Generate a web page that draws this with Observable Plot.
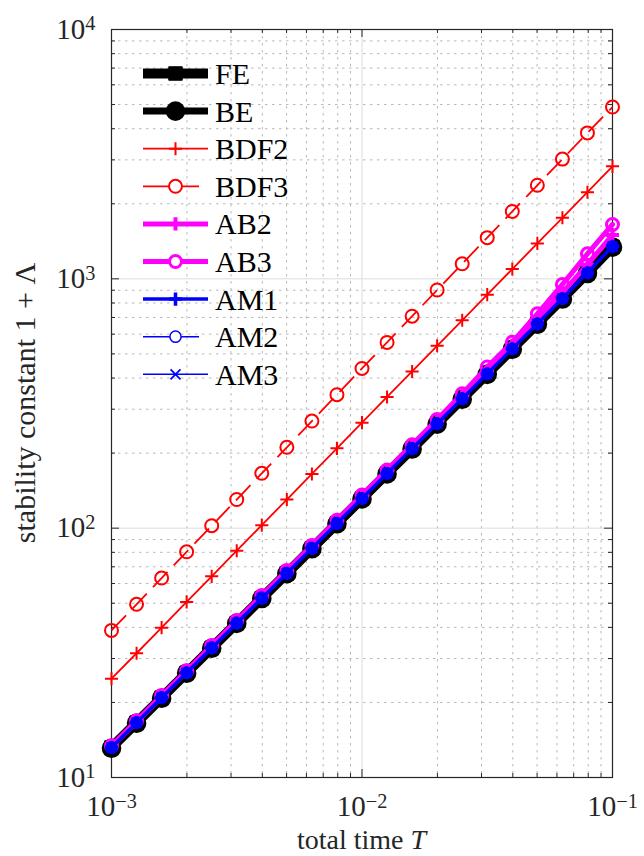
<!DOCTYPE html>
<html><head><meta charset="utf-8">
<script src="https://cdn.jsdelivr.net/npm/d3@7"></script>
<script src="https://cdn.jsdelivr.net/npm/@observablehq/plot@0.6"></script>
<style>
html,body{margin:0;padding:0;background:#fff;}
#chart{width:644px;height:856px;}
</style></head>
<body><div id="chart"></div>
<script>
// ---- data ----
const T = [0.001, 0.001259, 0.001585, 0.001995, 0.002512, 0.003162, 0.003981, 0.005012, 0.00631, 0.007943,
           0.01, 0.01259, 0.01585, 0.01995, 0.02512, 0.03162, 0.03981, 0.05012, 0.0631, 0.07943, 0.1];
const FE   = [13.2, 16.6, 20.9, 26.3, 33.1, 41.6, 52.4, 65.9, 83.0, 104.5, 131.5, 165.6, 208.5, 262.5, 330.5, 416, 524, 660, 834, 1055, 1345];
const BE   = [13.1, 16.5, 20.8, 26.2, 33.0, 41.5, 52.2, 65.7, 82.7, 104.1, 131.0, 165.0, 207.7, 261.5, 329, 414, 522, 657, 830, 1050, 1340];
const BDF2 = [24.9, 31.5, 39.9, 50.6, 64.1, 81.2, 102.8, 130.3, 165, 209, 265, 336, 425, 539, 682, 864, 1095, 1387, 1757, 2226, 2826];
const BDF3 = [38.9, 49.5, 63.1, 80.4, 102.3, 130.3, 166, 211, 269, 343, 437, 556, 708, 902, 1149, 1463, 1863, 2373, 3022, 3848, 4887];
const AB2  = [13.3, 16.7, 21.1, 26.6, 33.5, 42.2, 53.1, 66.9, 84.3, 106.3, 134, 169, 213, 269, 339, 428, 541, 687, 880, 1140, 1500];
const AB3  = [13.4, 16.9, 21.3, 26.8, 33.8, 42.6, 53.7, 67.7, 85.3, 107.6, 135.7, 171, 216, 273, 346, 443, 557, 724, 950, 1260, 1652];
const AM1  = [13.2, 16.6, 20.9, 26.3, 33.1, 41.6, 52.4, 65.9, 83.0, 104.5, 131.5, 165.6, 208.5, 262.5, 330.5, 416, 524, 660, 834, 1058, 1350];
const AM2  = [13.2, 16.6, 20.9, 26.3, 33.1, 41.6, 52.4, 65.9, 83.0, 104.5, 131.5, 165.6, 208.5, 262.5, 330.5, 416, 524, 660, 834, 1056, 1347];
const AM3  = [13.2, 16.6, 20.9, 26.3, 33.1, 41.6, 52.4, 65.9, 83.0, 104.5, 131.5, 165.6, 208.5, 262.5, 330.5, 416, 524, 660, 834, 1056, 1347];

const seriesNames  = ["FE", "BE", "BDF2", "BDF3", "AB2", "AB3", "AM1", "AM2", "AM3"];
const seriesValues = [FE, BE, BDF2, BDF3, AB2, AB3, AM1, AM2, AM3];
const xTicks = [0.001, 0.01, 0.1];
const yTicks = [10, 100, 1000, 10000];

// ---- styles ----
const styles = [
  {color: "#000000", lw: 10, sym: "square", r: 7.6, sw: 1, fill: "#000000"},
  {color: "#000000", lw: 7, sym: "circle", r: 8.8, sw: 2, fill: "#000000"},
  {color: "#ff0000", lw: 1.8, sym: "plus", r: 4.3, sw: 2, fill: "none"},
  {color: "#ff0000", lw: 1.8, sym: "circle", r: 6.5, sw: 2, fill: "none", dash: "21,9"},
  {color: "#ff00ff", lw: 5, sym: "plus", r: 4.3, sw: 4, fill: "none"},
  {color: "#ff00ff", lw: 5, sym: "circle", r: 6.0, sw: 3, fill: "none"},
  {color: "#0000ff", lw: 3.5, sym: "plus", r: 4.3, sw: 3.5, fill: "none"},
  {color: "#0000ff", lw: 1.5, sym: "circle", r: 5.6, sw: 1.5, fill: "#0000ff", legendFill: "#ffffff"},
  {color: "#0000ff", lw: 1.5, sym: "times", r: 4.6, sw: 1.8, fill: "none"}
];

// ---- pick an installed serif font ----
function pickFont(cands) {
  const ctx = document.createElement("canvas").getContext("2d");
  const probe = "stability constant 1 + BDF2 10";
  ctx.font = "40px monospace"; const wm = ctx.measureText(probe).width;
  ctx.font = "40px sans-serif"; const ws = ctx.measureText(probe).width;
  for (const c of cands) {
    ctx.font = `40px "${c}", monospace`; const a = ctx.measureText(probe).width;
    ctx.font = `40px "${c}", sans-serif`; const b = ctx.measureText(probe).width;
    if (a !== wm || b !== ws) return `"${c}"`;
  }
  return "serif";
}
const FONT = pickFont(["Liberation Serif", "Tinos", "Times New Roman", "Times", "Nimbus Roman", "DejaVu Serif", "Noto Serif", "FreeSerif"]) + ", serif";

const W = 644, H = 856, mL = 111, mR = 32, mT = 29, mB = 79;
const innerW = W - mL - mR, innerH = H - mT - mB;
const INK = "#262626";

const xMinor = [], yMinor = [];
for (const d of [-3, -2]) for (let k = 2; k <= 9; k++) xMinor.push(k * 10 ** d);
for (const d of [1, 2, 3]) for (let k = 2; k <= 9; k++) yMinor.push(k * 10 ** d);

const seriesMarks = [];
seriesValues.forEach((vals, i) => {
  const s = styles[i];
  const data = T.map((t, j) => ({T: t, v: vals[j]}));
  seriesMarks.push(Plot.line(data, {x: "T", y: "v", stroke: s.color, strokeWidth: s.lw,
    strokeDasharray: s.dash, strokeLinejoin: "round", strokeLinecap: s.dash ? "butt" : "round"}));
  seriesMarks.push(Plot.dot(data, {x: "T", y: "v", symbol: s.sym, r: s.r, stroke: s.color,
    strokeWidth: s.sw, fill: s.fill}));
});

const fmt = d => "10^" + Math.round(Math.log10(d));
const majL = 8, minL = 4;

const chart = Plot.plot({
  width: W, height: H,
  marginLeft: mL, marginRight: mR, marginTop: mT, marginBottom: mB,
  style: {fontFamily: FONT, background: "#ffffff", color: INK, overflow: "visible"},
  x: {type: "log", domain: [1e-3, 1e-1]},
  y: {type: "log", domain: [10, 1e4]},
  marks: [
    Plot.ruleX(xMinor, {stroke: "#b8b8b8", strokeWidth: 1, strokeDasharray: "2.5,4.5"}),
    Plot.ruleY(yMinor, {stroke: "#b8b8b8", strokeWidth: 1, strokeDasharray: "2.5,4.5"}),
    Plot.ruleX(xTicks, {stroke: "#dcdcdc", strokeWidth: 1}),
    Plot.ruleY(yTicks, {stroke: "#dcdcdc", strokeWidth: 1}),
    Plot.frame({stroke: INK, strokeWidth: 1.2}),
    Plot.tickX(xTicks, {stroke: INK, insetTop: innerH - majL}),
    Plot.tickX(xTicks, {stroke: INK, insetBottom: innerH - majL}),
    Plot.tickX(xMinor, {stroke: INK, insetTop: innerH - minL}),
    Plot.tickX(xMinor, {stroke: INK, insetBottom: innerH - minL}),
    Plot.tickY(yTicks, {stroke: INK, insetRight: innerW - majL}),
    Plot.tickY(yTicks, {stroke: INK, insetLeft: innerW - majL}),
    Plot.tickY(yMinor, {stroke: INK, insetRight: innerW - minL}),
    Plot.tickY(yMinor, {stroke: INK, insetLeft: innerW - minL}),
    Plot.axisX(xTicks, {tickSize: 0, tickPadding: 18, tickFormat: fmt, fontSize: 29, label: null, fill: INK}),
    Plot.axisY(yTicks, {tickSize: 0, tickPadding: 16, tickFormat: fmt, fontSize: 29, label: null, fill: INK}),
    ...seriesMarks
  ]
});

// superscripts in tick labels
d3.select(chart).selectAll("text").each(function() {
  const s = this.textContent;
  const m = s.match(/^10\^(.+)$/);
  if (m) {
    this.textContent = "10";
    d3.select(this).append("tspan").attr("dy", "-0.42em").attr("font-size", "0.7em")
      .text(m[1].replace("-", "\u2212"));
  }
});

const svg = d3.select(chart);
// axis titles
const xl = svg.append("text").attr("x", mL + innerW / 2).attr("y", 849)
  .attr("text-anchor", "middle").attr("font-family", FONT).attr("font-size", 28).attr("fill", INK);
xl.append("tspan").text("total time ");
xl.append("tspan").attr("font-style", "italic").text("T");
svg.append("text").attr("transform", `translate(35,${mT + innerH / 2}) rotate(-90)`)
  .attr("text-anchor", "middle").attr("font-family", FONT).attr("font-size", 30).attr("fill", INK)
  .text("stability constant 1 + \u039B");

// legend
const symMap = {square: d3.symbolSquare, circle: d3.symbolCircle, plus: d3.symbolPlus, times: d3.symbolTimes};
const lg = svg.append("g");
seriesNames.forEach((name, i) => {
  const s = styles[i];
  const y = 73.5 + i * 37.6;
  const short = s.sym === "circle" && s.lw < 2;
  lg.append("line").attr("x1", 143).attr("x2", short ? 199 : 208).attr("y1", y).attr("y2", y)
    .attr("stroke", s.color).attr("stroke-width", s.lw);
  const fill = s.legendFill ? s.legendFill : (s.fill === "none" && s.sym === "circle" ? "#ffffff" : s.fill);
  lg.append("path").attr("transform", `translate(175.5,${y})`)
    .attr("d", d3.symbol(symMap[s.sym], Math.PI * s.r * s.r)())
    .attr("fill", fill).attr("stroke", s.color).attr("stroke-width", s.sw);
  lg.append("text").attr("x", 215).attr("y", y).attr("dy", "0.35em").attr("text-anchor", "start")
    .attr("font-family", FONT).attr("font-size", 30).attr("fill", "#000").text(name);
});

document.getElementById("chart").appendChild(chart);
</script>
</body></html>
